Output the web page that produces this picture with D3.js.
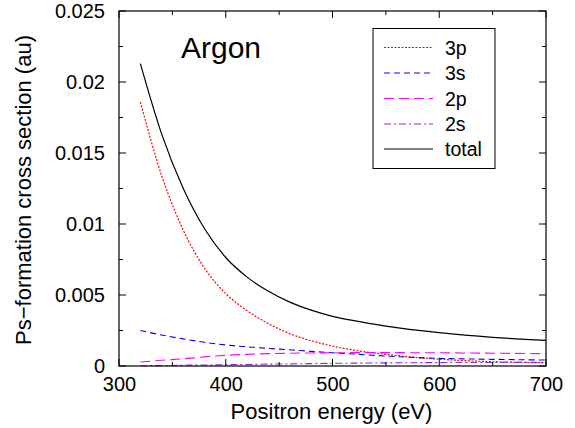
<!DOCTYPE html>
<html>
<head>
<meta charset="utf-8">
<script src="https://cdn.jsdelivr.net/npm/d3@7"></script>
<style>
  html, body { margin: 0; padding: 0; background: #fff; }
  text { font-family: "Liberation Sans", Arial, sans-serif; fill: #000; }
</style>
</head>
<body>
<svg id="chart" width="575" height="428"></svg>
<script>
// Positron energies (eV) at which the cross sections are tabulated
const energies = [320, 340, 360, 380, 400, 420, 440, 460, 480, 500, 520, 550, 600, 650, 700];

// Ps-formation cross sections (au) per subshell and summed
const sigma3p    = [0.0186, 0.0134, 0.0096, 0.0069, 0.0051, 0.0039, 0.00298, 0.00228, 0.00178, 0.00140, 0.00112, 0.00082, 0.00048, 0.00030, 0.00023];
const sigma3s    = [0.00250, 0.00218, 0.00191, 0.00167, 0.00148, 0.00135, 0.00124, 0.00114, 0.00103, 0.00093, 0.00084, 0.00070, 0.00054, 0.00047, 0.00042];
const sigma2p    = [0.00028, 0.00040, 0.00051, 0.00064, 0.00075, 0.00082, 0.00087, 0.00090, 0.00092, 0.00093, 0.00094, 0.00094, 0.00093, 0.00090, 0.00087];
const sigma2s    = [0.00002, 0.00003, 0.00005, 0.00007, 0.00009, 0.00011, 0.00013, 0.00015, 0.00017, 0.00019, 0.00020, 0.00022, 0.00024, 0.00025, 0.00026];
const sigmaTotal = [0.0213, 0.01633, 0.01253, 0.00968, 0.00764, 0.00626, 0.00526, 0.00450, 0.00393, 0.00350, 0.00319, 0.00281, 0.00235, 0.00202, 0.00180];

const seriesNames = ["3p", "3s", "2p", "2s", "total"];
const xTickValues = [300, 400, 500, 600, 700];
const yTickValues = [0, 0.005, 0.01, 0.015, 0.02, 0.025];
const yTickLabels = ["0", "0.005", "0.01", "0.015", "0.02", "0.025"];

const series = [
  { name: seriesNames[0], values: sigma3p,    color: "#ff0000", dash: "2,1.5",   width: 1.2 },
  { name: seriesNames[1], values: sigma3s,    color: "#0000ff", dash: "6,4",     width: 1.1 },
  { name: seriesNames[2], values: sigma2p,    color: "#ff00ff", dash: "10,5",    width: 1.1 },
  { name: seriesNames[3], values: sigma2s,    color: "#8a2be2", dash: "7,3,2,3", width: 1.1 },
  { name: seriesNames[4], values: sigmaTotal, color: "#000000", dash: null,      width: 1.2 }
];

const svg = d3.select("#chart");
const plotLeft = 119, plotRight = 546, plotTop = 11, plotBottom = 366;

const x = d3.scaleLinear().domain([300, 700]).range([plotLeft, plotRight]);
const y = d3.scaleLinear().domain([0, 0.025]).range([plotBottom, plotTop]);

// Curves
const line = d3.line()
  .x(d => x(d[0]))
  .y(d => y(d[1]))
  .curve(d3.curveMonotoneX);

const plot = svg.append("g");
series.forEach(s => {
  plot.append("path")
    .datum(energies.map((e, i) => [e, s.values[i]]))
    .attr("d", line)
    .attr("fill", "none")
    .attr("stroke", s.color)
    .attr("stroke-width", s.width)
    .attr("stroke-dasharray", s.dash);
});

// Frame
svg.append("rect")
  .attr("x", plotLeft).attr("y", plotTop)
  .attr("width", plotRight - plotLeft).attr("height", plotBottom - plotTop)
  .attr("fill", "none").attr("stroke", "#000").attr("stroke-width", 1.2);

// Inward ticks on all four sides (major + minor)
const xMajor = d3.range(300, 701, 100);
const xMinor = d3.range(350, 700, 100);
const yMajor = yTickValues;
const yMinor = d3.range(0.0025, 0.025, 0.005);
const ticks = svg.append("g").attr("stroke", "#000").attr("stroke-width", 1);
function xTick(v, len) {
  ticks.append("line").attr("x1", x(v)).attr("x2", x(v)).attr("y1", plotBottom).attr("y2", plotBottom - len);
  ticks.append("line").attr("x1", x(v)).attr("x2", x(v)).attr("y1", plotTop).attr("y2", plotTop + len);
}
function yTick(v, len) {
  ticks.append("line").attr("y1", y(v)).attr("y2", y(v)).attr("x1", plotLeft).attr("x2", plotLeft + len);
  ticks.append("line").attr("y1", y(v)).attr("y2", y(v)).attr("x1", plotRight).attr("x2", plotRight - len);
}
xMajor.forEach(v => xTick(v, 7));
xMinor.forEach(v => xTick(v, 4));
yMajor.forEach(v => yTick(v, 7));
yMinor.forEach(v => yTick(v, 4));

// Tick labels via d3 axes (tick lines hidden; frame ticks drawn above)
const xAxis = d3.axisBottom(x).tickValues(xTickValues).tickSize(0).tickPadding(0).tickFormat(d3.format("d"));
const gx = svg.append("g").attr("transform", `translate(0,${plotBottom})`).call(xAxis);
gx.select(".domain").remove();
gx.selectAll("text").attr("font-size", 20).attr("font-family", "Liberation Sans, Arial, sans-serif").attr("dy", "1.25em").attr("y", 0);

const yAxis = d3.axisLeft(y).tickValues(yTickValues).tickSize(0).tickPadding(14)
  .tickFormat((d, i) => yTickLabels[i]);
const gy = svg.append("g").attr("transform", `translate(${plotLeft},0)`).call(yAxis);
gy.select(".domain").remove();
gy.selectAll("text").attr("font-size", 20).attr("font-family", "Liberation Sans, Arial, sans-serif");

// Axis titles
svg.append("text")
  .attr("x", 331.5).attr("y", 419)
  .attr("text-anchor", "middle").attr("font-size", 22)
  .text("Positron energy (eV)");

svg.append("text")
  .attr("transform", "translate(31,190) rotate(-90)")
  .attr("text-anchor", "middle").attr("font-size", 22)
  .text("Ps\u2212formation cross section (au)");

// Panel label
svg.append("text")
  .attr("x", 181).attr("y", 58)
  .attr("font-size", 30)
  .text("Argon");

// Legend
const legend = svg.append("g");
legend.append("rect")
  .attr("x", 373).attr("y", 28.5).attr("width", 122).attr("height", 140)
  .attr("fill", "#fff").attr("stroke", "#000").attr("stroke-width", 1);
const rowY = [47.5, 73, 98.5, 124, 149];
series.forEach((s, i) => {
  legend.append("line")
    .attr("x1", 384).attr("x2", 433)
    .attr("y1", rowY[i]).attr("y2", rowY[i])
    .attr("stroke", s.color).attr("stroke-width", s.width)
    .attr("stroke-dasharray", s.dash);
  legend.append("text")
    .attr("x", 445).attr("y", rowY[i]).attr("dy", "0.36em")
    .attr("font-size", 19.5)
    .text(s.name);
});
</script>
</body>
</html>
